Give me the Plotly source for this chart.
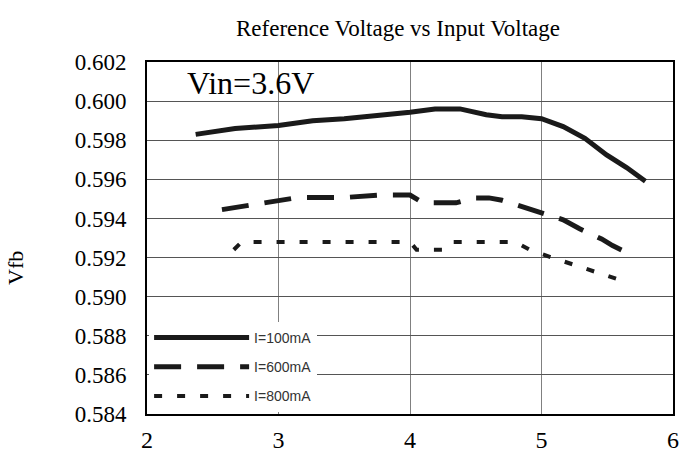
import plotly.graph_objects as go

# Data
vin_100 = [2.37, 2.67, 3.0, 3.26, 3.5, 3.78, 4.0, 4.19, 4.38, 4.58, 4.70, 4.85, 5.0, 5.165, 5.33, 5.495, 5.647, 5.79]
vfb_100 = [0.5983, 0.5986, 0.59875, 0.5990, 0.5991, 0.59926, 0.59943, 0.5996, 0.5996, 0.5993, 0.5992, 0.5992, 0.5991, 0.5987, 0.5981, 0.59725, 0.5966, 0.5959]

vin_600 = [2.57, 2.79, 2.95, 3.15, 3.5, 3.78, 4.0, 4.1, 4.35, 4.49, 4.6, 4.7, 4.82, 4.95, 5.165, 5.29, 5.457, 5.54, 5.70]
vfb_600 = [0.59445, 0.5947, 0.5949, 0.59507, 0.59507, 0.5952, 0.5952, 0.5948, 0.5948, 0.59505, 0.59505, 0.59493, 0.59468, 0.59442, 0.59393, 0.59347, 0.59295, 0.59261, 0.5921]

vin_800 = [2.66, 2.72, 4.0, 4.05, 4.27, 4.33, 4.80, 4.91, 5.08, 5.26, 5.44, 5.62]
vfb_800 = [0.5924, 0.5928, 0.5928, 0.5924, 0.5924, 0.5928, 0.5928, 0.5924, 0.5920, 0.5916, 0.5912, 0.5908]

x_ticks = [2, 3, 4, 5, 6]
y_ticks = [0.584, 0.586, 0.588, 0.590, 0.592, 0.594, 0.596, 0.598, 0.600, 0.602]
y_tick_text = ["%.3f" % v for v in y_ticks]

serif = "Times New Roman, Liberation Serif, serif"
sans = "Liberation Sans"

fig = go.Figure()
fig.add_trace(go.Scatter(x=vin_100, y=vfb_100, mode="lines", name="I=100mA", legendgroup="a",
                         line=dict(color="#1a1a1a", width=5)))
fig.add_trace(go.Scatter(x=vin_600, y=vfb_600, mode="lines", name="I=600mA", legendgroup="b",
                         line=dict(color="#1a1a1a", width=5, dash="27px,16px")))
fig.add_trace(go.Scatter(x=vin_800, y=vfb_800, mode="lines", name="I=800mA", legendgroup="c",
                         line=dict(color="#1a1a1a", width=4, dash="8px,15px")))

fig.update_layout(
    template="none",
    width=681, height=455,
    font=dict(family=serif, color="black"),
    margin=dict(l=147, r=8, t=62, b=41, autoexpand=False),
    paper_bgcolor="white", plot_bgcolor="white",
    title=dict(text="Reference Voltage vs Input Voltage", x=398/681, xanchor="center",
               y=1 - 28/455, yanchor="middle", font=dict(family=serif, size=23, color="black")),
    showlegend=True,
    legend=dict(x=0.004, y=0.006, xanchor="left", yanchor="bottom", bgcolor="white",
                font=dict(family=sans, size=14, color="#333"), tracegroupgap=8,
                itemwidth=95, borderwidth=0),
    annotations=[
        dict(text="Vin=3.6V", xref="paper", yref="paper", x=(185-147)/526, y=0.94,
             xanchor="left", yanchor="middle", showarrow=False,
             font=dict(family=serif, size=32, color="black")),
        dict(text="Vfb", xref="paper", yref="paper", x=-(147-15)/526, y=(414-268)/352,
             xanchor="center", yanchor="middle", textangle=-90, showarrow=False,
             font=dict(family=serif, size=22, color="black")),
    ],
    xaxis=dict(range=[2, 6], tickvals=x_ticks, ticktext=[str(t) for t in x_ticks],
               showgrid=True, gridcolor="#808080", gridwidth=1, zeroline=False,
               showline=True, linecolor="black", linewidth=2, mirror=True,
               ticks="", ticklabelstandoff=3,
               tickfont=dict(family=serif, size=24, color="black")),
    yaxis=dict(range=[0.584, 0.602], tickvals=y_ticks, ticktext=y_tick_text,
               showgrid=True, gridcolor="#555", gridwidth=1, zeroline=False,
               showline=True, linecolor="black", linewidth=2, mirror=True,
               ticks="", ticklabelstandoff=14,
               tickfont=dict(family=serif, size=23, color="black")),
)

fig.write_html("out.html")
